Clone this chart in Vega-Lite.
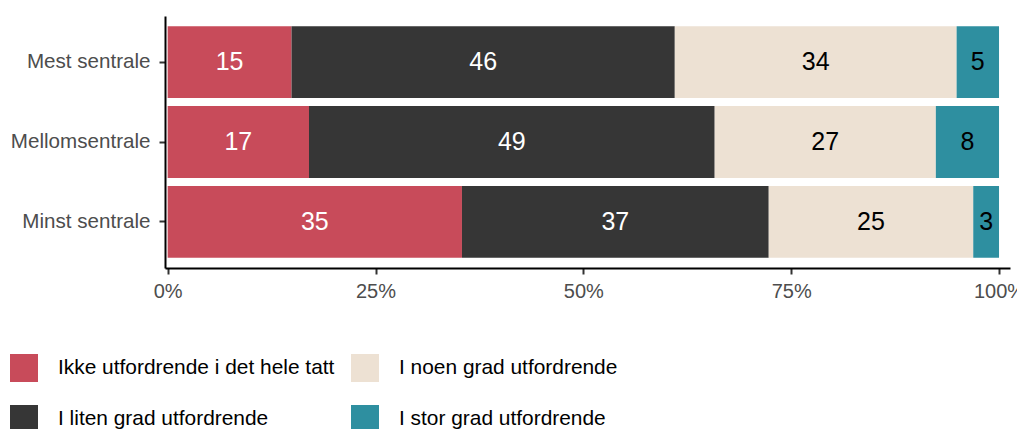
{
  "$schema": "https://vega.github.io/schema/vega-lite/v6.json",
  "autosize": "none",
  "width": 845,
  "height": 252,
  "padding": {"left": 165, "top": 16, "right": 7, "bottom": 161},
  "background": "white",
  "config": {"view": {"stroke": null}, "font": "Liberation Sans"},
  "data": {"values": [
    {"group": "Mest sentrale", "cat": "Ikke utfordrende i det hele tatt", "k": 1, "value": 14.9},
    {"group": "Mest sentrale", "cat": "I liten grad utfordrende", "k": 2, "value": 46.1},
    {"group": "Mest sentrale", "cat": "I noen grad utfordrende", "k": 3, "value": 33.9},
    {"group": "Mest sentrale", "cat": "I stor grad utfordrende", "k": 4, "value": 5.1},
    {"group": "Mellomsentrale", "cat": "Ikke utfordrende i det hele tatt", "k": 1, "value": 17.0},
    {"group": "Mellomsentrale", "cat": "I liten grad utfordrende", "k": 2, "value": 48.8},
    {"group": "Mellomsentrale", "cat": "I noen grad utfordrende", "k": 3, "value": 26.6},
    {"group": "Mellomsentrale", "cat": "I stor grad utfordrende", "k": 4, "value": 7.6},
    {"group": "Minst sentrale", "cat": "Ikke utfordrende i det hele tatt", "k": 1, "value": 35.4},
    {"group": "Minst sentrale", "cat": "I liten grad utfordrende", "k": 2, "value": 36.9},
    {"group": "Minst sentrale", "cat": "I noen grad utfordrende", "k": 3, "value": 24.6},
    {"group": "Minst sentrale", "cat": "I stor grad utfordrende", "k": 4, "value": 3.1}
  ]},
  "encoding": {
    "y": {
      "field": "group", "type": "nominal", "title": null,
      "sort": ["Mest sentrale", "Mellomsentrale", "Minst sentrale"],
      "scale": {"paddingInner": 0.1, "paddingOuter": 0.127},
      "axis": {"domainColor": "black", "domainWidth": 2, "tickColor": "#333333", "tickWidth": 2, "tickSize": 6,
               "labelFontSize": 20.6, "labelColor": "#4D4D4D", "labelPadding": 9, "labelFont": "Liberation Sans"}
    }
  },
  "layer": [
    {
      "mark": {"type": "bar"},
      "encoding": {
        "x": {
          "field": "value", "type": "quantitative", "stack": "zero", "title": null,
          "scale": {"domain": [-0.32, 101.32], "nice": false, "zero": false},
          "axis": {"values": [0, 25, 50, 75, 100], "labelExpr": "datum.value + '%'", "grid": false,
                   "domainColor": "black", "domainWidth": 2, "tickColor": "#333333", "tickWidth": 2, "tickSize": 6,
                   "labelFontSize": 20, "labelColor": "#4D4D4D", "labelPadding": 7, "labelFont": "Liberation Sans",
                   "labelFlush": false, "labelOverlap": false}
        },
        "color": {
          "field": "cat", "type": "nominal", "title": null,
          "scale": {
            "domain": ["Ikke utfordrende i det hele tatt", "I noen grad utfordrende", "I liten grad utfordrende", "I stor grad utfordrende"],
            "range": ["#C84B5A", "#EDE1D3", "#363636", "#2E8FA0"]
          },
          "legend": {
            "orient": "none", "legendX": -155, "legendY": 338, "columns": 2, "direction": "horizontal",
            "symbolType": "square", "symbolSize": 784, "symbolStrokeWidth": 0, "symbolOpacity": 1,
            "labelFontSize": 20.9, "labelColor": "black", "labelFont": "Liberation Sans", "labelOffset": 20,
            "labelLimit": 400, "rowPadding": 23, "columnPadding": 16, "padding": 0
          }
        },
        "order": {"field": "k", "type": "quantitative"}
      }
    },
    {
      "mark": {"type": "text", "fontSize": 25, "font": "Liberation Sans", "baseline": "middle", "align": "center"},
      "encoding": {
        "x": {"field": "value", "type": "quantitative", "stack": "zero", "bandPosition": 0.5},
        "detail": {"field": "cat", "type": "nominal"},
        "order": {"field": "k", "type": "quantitative"},
        "text": {"field": "value", "type": "quantitative", "format": ".0f"},
        "color": {"condition": {"test": "datum.k <= 2", "value": "white"}, "value": "black"}
      }
    }
  ]
}
